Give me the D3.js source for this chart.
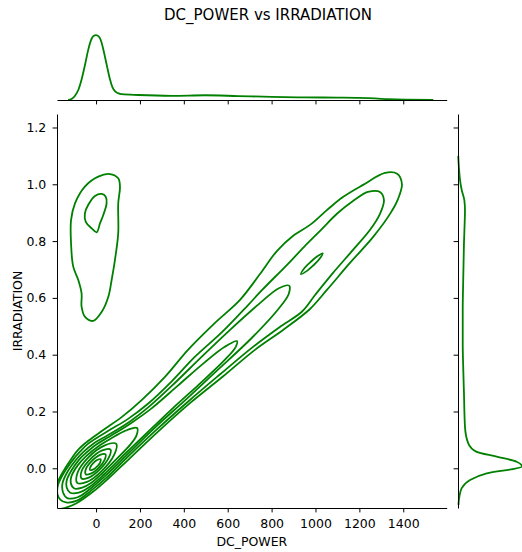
<!DOCTYPE html>
<html>
<head>
<meta charset="utf-8">
<script src="https://cdn.jsdelivr.net/npm/d3@7"></script>
<style>
  body { margin: 0; background: #fff; }
  svg { display: block; }
  text { font-family: "DejaVu Sans", sans-serif; fill: #000; }
</style>
</head>
<body>
<svg id="chart" width="522" height="552"></svg>
<script>
// ---- tick values ----
const xTicks = [0, 200, 400, 600, 800, 1000, 1200, 1400];
const yTicks = [0.0, 0.2, 0.4, 0.6, 0.8, 1.0, 1.2];

// ---- marginal densities ----
// [DC_POWER, density]
const powerDensity = [
  [-127, 0], [-110, 0.00005], [-96, 0.00016], [-80, 0.00040], [-66, 0.00078],
  [-50, 0.00135], [-36, 0.00190], [-23, 0.00228], [-12, 0.00244], [0, 0.00247],
  [12, 0.00242], [24, 0.00222], [36, 0.00182], [50, 0.00128], [63, 0.00080],
  [75, 0.00048], [88, 0.00032], [100, 0.00026], [117, 0.00022], [192, 0.00019],
  [345, 0.00016], [496, 0.00018], [648, 0.00015], [800, 0.00012], [952, 0.00010],
  [1100, 0.00009], [1200, 0.00008], [1271, 0.00006], [1332, 0.00003],
  [1408, 0.00001], [1537, 0.0]
];
// [IRRADIATION, density]
const irradiationDensity = [
  [-0.129, 0.04], [-0.100, 0.12], [-0.070, 0.33], [-0.041, 1.07], [-0.018, 2.55],
  [0.006, 5.68], [0.023, 5.21], [0.041, 3.44], [0.058, 1.66], [0.088, 0.91],
  [0.146, 0.62], [0.264, 0.53], [0.346, 0.47], [0.440, 0.42], [0.557, 0.42],
  [0.675, 0.47], [0.792, 0.53], [0.874, 0.60], [0.909, 0.62], [0.945, 0.56],
  [0.980, 0.33], [1.015, 0.18], [1.060, 0.08], [1.100, 0.02]
];

// ---- joint density contours, [DC_POWER, IRRADIATION] ----
const bandLevel1 = [
  [-205, -0.118], [-192, -0.078], [-157, -0.021], [-107, 0.040], [-78, 0.068],
  [-37, 0.096], [31, 0.134], [118, 0.181], [209, 0.241], [314, 0.322],
  [419, 0.417], [542, 0.512], [656, 0.593], [747, 0.684], [824, 0.765],
  [897, 0.818], [975, 0.857], [1052, 0.909], [1125, 0.955], [1217, 0.998],
  [1317, 1.040], [1372, 1.037], [1394, 1.001], [1376, 0.948], [1339, 0.895],
  [1262, 0.814], [1157, 0.723], [1052, 0.628], [975, 0.561], [852, 0.487],
  [724, 0.417], [578, 0.323], [432, 0.232], [285, 0.131], [156, 0.037],
  [56, -0.036], [-13, -0.082], [-89, -0.123], [-144, -0.140], [-192, -0.143]
];
const bandLevel2 = [
  [-163, -0.110], [-176, -0.091], [-173, -0.058], [-140, -0.008], [-100, 0.035],
  [-70, 0.061], [-37, 0.086], [54, 0.131], [146, 0.174], [238, 0.228],
  [347, 0.308], [450, 0.392], [575, 0.480], [692, 0.574], [757, 0.628],
  [876, 0.721], [948, 0.780], [1022, 0.837], [1099, 0.897], [1171, 0.941],
  [1239, 0.973], [1294, 0.973], [1312, 0.944], [1294, 0.896], [1248, 0.839],
  [1171, 0.769], [1080, 0.688], [999, 0.611], [939, 0.552], [836, 0.497],
  [711, 0.425], [567, 0.332], [424, 0.238], [277, 0.137], [148, 0.043],
  [50, -0.031], [-20, -0.077], [-87, -0.114], [-137, -0.120]
];
const bandLevel3 = [
  [880, 0.643], [878, 0.614], [831, 0.561], [707, 0.457], [541, 0.337],
  [408, 0.241], [272, 0.146], [142, 0.048], [43, -0.026], [-26, -0.072],
  [-84, -0.102], [-131, -0.105], [-150, -0.086], [-153, -0.053], [-132, -0.015],
  [-92, 0.029], [-61, 0.055], [-8, 0.089], [53, 0.116], [153, 0.164],
  [243, 0.218], [361, 0.302], [475, 0.388], [607, 0.485], [743, 0.579], [833, 0.634]
];
const bandLevel4 = [
  [642, 0.448], [636, 0.427], [583, 0.379], [467, 0.294], [366, 0.223],
  [234, 0.126], [135, 0.053], [37, -0.021], [-32, -0.067], [-79, -0.086],
  [-118, -0.086], [-134, -0.068], [-134, -0.043], [-111, -0.006], [-79, 0.029],
  [-53, 0.049], [0, 0.083], [60, 0.111], [159, 0.159], [253, 0.211],
  [374, 0.292], [495, 0.373], [585, 0.427]
];
const bandLevel5 = [
  [187, 0.142], [184, 0.115], [158, 0.085], [95, 0.034], [30, -0.016],
  [-21, -0.051], [-63, -0.068], [-99, -0.071], [-115, -0.053], [-113, -0.030],
  [-82, 0.012], [-45, 0.043], [8, 0.076], [68, 0.105], [130, 0.131]
];
const coreLevel6 = [[92, 0.086], [40, 0.081], [-37, 0.037], [-84, -0.015], [-86, -0.051], [-41, -0.048], [24, -0.011], [83, 0.048]];
const coreLevel7 = [[66, 0.066], [28, 0.063], [-29, 0.030], [-65, -0.008], [-66, -0.036], [-33, -0.033], [16, -0.005], [59, 0.039]];
const coreLevel8 = [[43, 0.049], [18, 0.047], [-21, 0.024], [-46, -0.002], [-47, -0.021], [-24, -0.019], [10, 0.000], [39, 0.030]];
const coreLevel9 = [[21, 0.032], [7, 0.030], [-13, 0.018], [-26, 0.004], [-28, -0.006], [-15, -0.005], [3, 0.005], [19, 0.021]];
const ridgeIsland = [[1033, 0.757], [1004, 0.744], [977, 0.726], [951, 0.706], [934, 0.684], [963, 0.696], [991, 0.715], [1016, 0.735]];
const nightBlobOuter = [
  [63, 1.036], [101, 1.021], [109, 0.992], [101, 0.933], [101, 0.827], [86, 0.733],
  [71, 0.663], [56, 0.604], [26, 0.551], [-13, 0.519], [-51, 0.534], [-66, 0.569],
  [-66, 0.616], [-81, 0.663], [-104, 0.710], [-114, 0.792], [-114, 0.874],
  [-96, 0.933], [-51, 0.992], [10, 1.027]
];
const nightBlobInner = [
  [26, 0.966], [44, 0.956], [48, 0.933], [33, 0.892], [18, 0.863], [3, 0.831],
  [-20, 0.845], [-47, 0.868], [-51, 0.898], [-36, 0.927], [-5, 0.959]
];

const contourRings = [
  bandLevel1, nightBlobOuter, bandLevel2, nightBlobInner, bandLevel3, ridgeIsland,
  bandLevel4, bandLevel5, coreLevel6, coreLevel7, coreLevel8, coreLevel9
];

// ---- layout ----
const main = { left: 57, right: 446.7, top: 114, bottom: 508 };
const margSize = 78.8;
const lineColor = "green";
const fontSize = 12.5;

const svg = d3.select("#chart");

const x = d3.scaleLinear().domain([-178, 1598]).range([main.left, main.right]);
const y = d3.scaleLinear().domain([-0.1398, 1.2475]).range([main.bottom, main.top]);
const topY = d3.scaleLinear().domain([0, 0.003]).range([100, 100 - margSize]);
const rightX = d3.scaleLinear().domain([0, 7]).range([458, 458 + margSize]);

// clip for the joint panel
svg.append("defs").append("clipPath").attr("id", "mainClip")
  .append("rect")
  .attr("x", main.left).attr("y", main.top)
  .attr("width", main.right - main.left).attr("height", main.bottom - main.top);

// joint contours
const ringLine = d3.line()
  .x(d => x(d[0]))
  .y(d => y(d[1]))
  .curve(d3.curveCatmullRomClosed.alpha(0.5));

svg.append("g").attr("clip-path", "url(#mainClip)")
  .selectAll("path").data(contourRings).join("path")
  .attr("d", ringLine)
  .attr("fill", "none")
  .attr("stroke", lineColor)
  .attr("stroke-width", 1.8)
  .attr("stroke-linejoin", "round");

// marginal curves
svg.append("path")
  .datum(powerDensity)
  .attr("d", d3.line().x(d => x(d[0])).y(d => topY(d[1])).curve(d3.curveMonotoneX))
  .attr("fill", "none").attr("stroke", lineColor).attr("stroke-width", 1.8);

svg.append("path")
  .datum(irradiationDensity)
  .attr("d", d3.line().x(d => rightX(d[1])).y(d => y(d[0])).curve(d3.curveMonotoneY))
  .attr("fill", "none").attr("stroke", lineColor).attr("stroke-width", 1.8);

// axes
function styleAxis(g) {
  g.selectAll(".domain").attr("stroke", "#000").attr("stroke-width", 1);
  g.selectAll(".tick line").attr("stroke", "#000").attr("stroke-width", 1);
  g.selectAll(".tick text").attr("font-size", fontSize).attr("fill", "#000")
    .attr("font-family", "DejaVu Sans, sans-serif");
}

svg.append("g")
  .attr("transform", `translate(0,${main.bottom})`)
  .call(d3.axisBottom(x).tickValues(xTicks).tickFormat(d3.format("d"))
    .tickSize(4.4).tickSizeOuter(0).tickPadding(6.3))
  .call(styleAxis);

svg.append("g")
  .attr("transform", `translate(${main.left},0)`)
  .call(d3.axisLeft(y).tickValues(yTicks).tickFormat(d3.format(".1f"))
    .tickSize(4.4).tickSizeOuter(0).tickPadding(6.3))
  .call(styleAxis);

// marginal axes: ticks without labels
svg.append("g")
  .attr("transform", "translate(0,100)")
  .call(d3.axisBottom(x).tickValues(xTicks).tickFormat("").tickSize(4.4).tickSizeOuter(0))
  .call(styleAxis);

svg.append("g")
  .attr("transform", "translate(458,0)")
  .call(d3.axisLeft(y).tickValues(yTicks).tickFormat("").tickSize(4.4).tickSizeOuter(0))
  .call(styleAxis);

// labels
svg.append("text")
  .attr("x", (main.left + main.right) / 2).attr("y", 546)
  .attr("text-anchor", "middle").attr("font-size", fontSize)
  .text("DC_POWER");

svg.append("text")
  .attr("transform", `translate(22,${(main.top + main.bottom) / 2}) rotate(-90)`)
  .attr("text-anchor", "middle").attr("font-size", fontSize)
  .text("IRRADIATION");

svg.append("text")
  .attr("x", 268).attr("y", 20)
  .attr("text-anchor", "middle").attr("font-size", 15)
  .text("DC_POWER vs IRRADIATION");
</script>
</body>
</html>
